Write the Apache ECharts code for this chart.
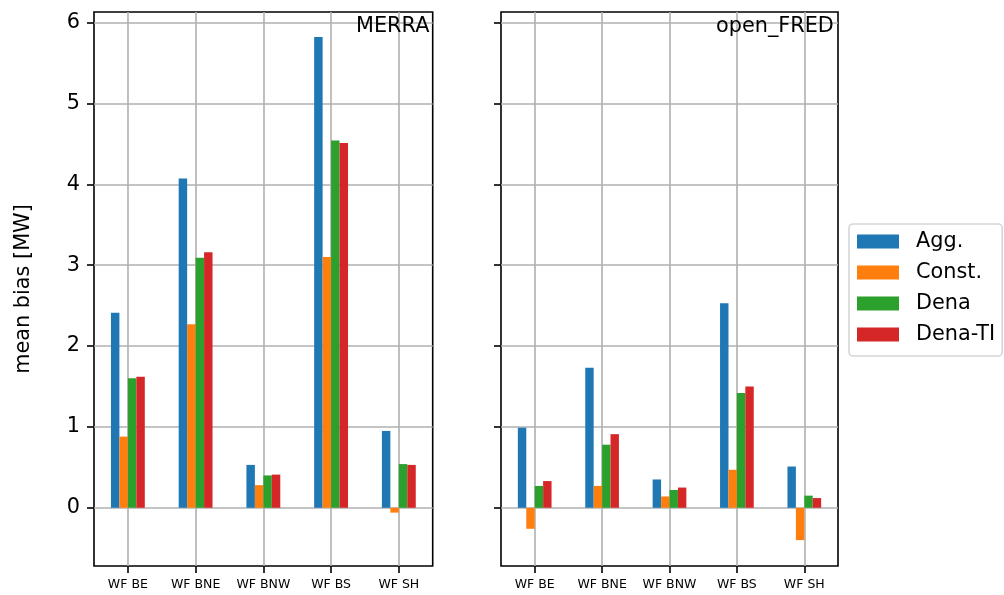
<!DOCTYPE html>
<html>
<head>
<meta charset="utf-8">
<script src="https://cdn.jsdelivr.net/npm/echarts@6/dist/echarts.min.js"></script>
<style>
  html, body { margin: 0; padding: 0; background: #fff; }
  #chart { width: 1004px; height: 595px; }
</style>
</head>
<body>
<div id="chart"></div>
<script>
// Wind farms on the x axis
const categories = ['WF BE', 'WF BNE', 'WF BNW', 'WF BS', 'WF SH'];
const seriesNames = ['Agg.', 'Const.', 'Dena', 'Dena-TI'];
const colors = ['#1f77b4', '#ff7f0e', '#2ca02c', '#d62728'];

// Mean bias [MW] per wind farm, MERRA weather data
const merraAgg = [2.41, 4.07, 0.53, 5.82, 0.95];
const merraConst = [0.88, 2.27, 0.28, 3.10, -0.06];
const merraDena = [1.60, 3.09, 0.40, 4.54, 0.54];
const merraDenaTI = [1.62, 3.16, 0.41, 4.51, 0.53];

// Mean bias [MW] per wind farm, open_FRED weather data
const fredAgg = [0.99, 1.73, 0.35, 2.53, 0.51];
const fredConst = [-0.26, 0.27, 0.14, 0.47, -0.40];
const fredDena = [0.27, 0.78, 0.22, 1.42, 0.15];
const fredDenaTI = [0.33, 0.91, 0.25, 1.50, 0.12];

// Shared y range and tick labels
const yMin = -0.72;
const yMax = 6.13;
const yTicks = [0, 1, 2, 3, 4, 5, 6];

const FONT = 'DejaVu Sans';
const BIG = 20.8;
const SMALL = 12.5;

const chart = echarts.init(document.getElementById('chart'), null, { renderer: 'canvas' });

function makeXAxis(gridIndex) {
  return {
    type: 'category',
    gridIndex: gridIndex,
    position: 'bottom',
    data: categories,
    boundaryGap: true,
    axisLine: { show: false, onZero: false },
    axisTick: { show: true, alignWithLabel: true, length: 7, lineStyle: { color: '#000', width: 1.6 } },
    axisLabel: { color: '#000', fontFamily: FONT, fontSize: SMALL, margin: 12, interval: 0 },
    splitLine: { show: true, alignWithLabel: true, lineStyle: { color: '#b0b0b0', width: 1.6 } }
  };
}

function makeYAxis(gridIndex, showLabels) {
  const ax = {
    type: 'value',
    gridIndex: gridIndex,
    min: yMin,
    max: yMax,
    splitNumber: 6,
    axisLine: { show: false },
    axisTick: { show: true, length: 7, customValues: yTicks, lineStyle: { color: '#000', width: 1.6 } },
    axisLabel: {
      show: showLabels, customValues: yTicks, color: '#000', fontFamily: FONT, fontSize: BIG, margin: 14,
      formatter: v => String(v)
    },
    splitLine: { show: true, lineStyle: { color: '#b0b0b0', width: 1.6 } }
  };
  if (showLabels) {
    ax.name = 'mean bias [MW]';
    ax.nameLocation = 'middle';
    ax.nameGap = 60;
    ax.nameTextStyle = { color: '#000', fontFamily: FONT, fontSize: BIG };
  }
  return ax;
}

function makeBars(values, idx, gridIndex) {
  return {
    type: 'bar',
    name: seriesNames[idx],
    xAxisIndex: gridIndex,
    yAxisIndex: gridIndex,
    data: values,
    barWidth: '12.5%',
    barGap: '0%',
    itemStyle: { color: colors[idx] },
    emphasis: { disabled: true }
  };
}

const option = {
  animation: false,
  backgroundColor: '#fff',
  textStyle: { fontFamily: FONT },
  title: [
    { text: 'MERRA', left: 356, top: 16, padding: 0,
      textStyle: { color: '#000', fontFamily: FONT, fontSize: BIG, fontWeight: 'normal' } },
    { text: 'open_FRED', left: 716, top: 16, padding: 0,
      textStyle: { color: '#000', fontFamily: FONT, fontSize: BIG, fontWeight: 'normal' } }
  ],
  legend: {
    orient: 'vertical',
    left: 849,
    top: 224,
    data: seriesNames,
    icon: 'rect',
    itemWidth: 42,
    itemHeight: 14,
    itemGap: 10,
    padding: [7, 7, 11, 8],
    borderColor: '#d6d6d6',
    borderWidth: 1.6,
    borderRadius: 4,
    backgroundColor: '#fff',
    selectedMode: false,
    textStyle: { color: '#000', fontFamily: FONT, fontSize: BIG, lineHeight: 20, padding: [0, 0, 0, 12] }
  },
  grid: [
    { left: 94, top: 12, width: 338.7, height: 554, show: true, borderColor: '#000', borderWidth: 1.6, backgroundColor: 'transparent', containLabel: false },
    { left: 501, top: 12, width: 337, height: 554, show: true, borderColor: '#000', borderWidth: 1.6, backgroundColor: 'transparent', containLabel: false }
  ],
  xAxis: [makeXAxis(0), makeXAxis(1)],
  yAxis: [makeYAxis(0, true), makeYAxis(1, false)],
  series: [
    makeBars(merraAgg, 0, 0),
    makeBars(merraConst, 1, 0),
    makeBars(merraDena, 2, 0),
    makeBars(merraDenaTI, 3, 0),
    makeBars(fredAgg, 0, 1),
    makeBars(fredConst, 1, 1),
    makeBars(fredDena, 2, 1),
    makeBars(fredDenaTI, 3, 1)
  ]
};

chart.setOption(option);
</script>
</body>
</html>
